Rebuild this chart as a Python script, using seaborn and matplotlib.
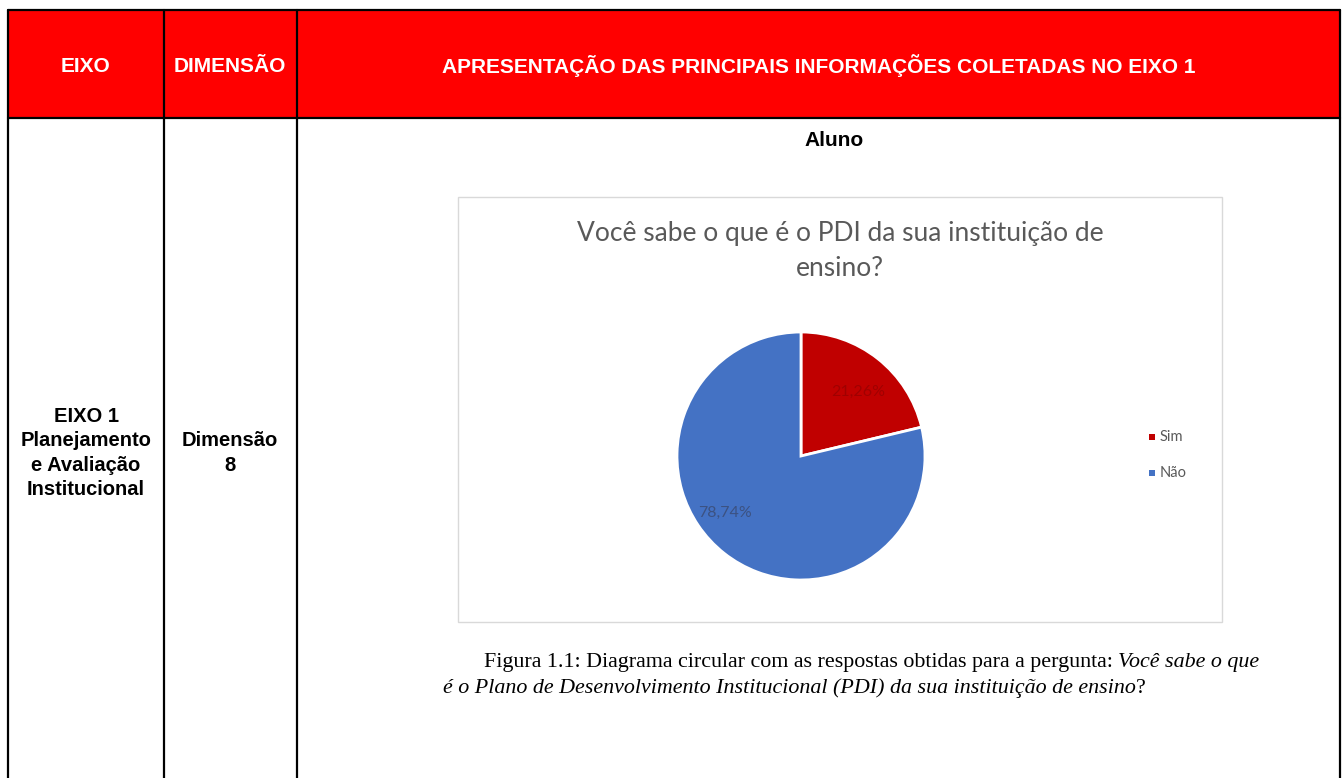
import matplotlib
matplotlib.use("Agg")
import matplotlib.pyplot as plt
import seaborn as sns

# data
labels = ["Sim", "Não"]
shares = [21.26, 78.74]
pct_text = ["21,26%", "78,74%"]
colors = ["#C00000", "#4472C4"]
pct_colors = ["#A00000", "#3C5282"]

header = ["EIXO", "DIMENSÃO", "APRESENTAÇÃO DAS PRINCIPAIS INFORMAÇÕES COLETADAS NO EIXO 1"]
eixo = "EIXO 1\nPlanejamento\ne Avaliação\nInstitucional"
dimensao = "Dimensão\n8"
chart_title = "Você sabe o que é o PDI da sua instituição de\nensino?"

sns.set_style("white")
plt.rcParams["font.family"] = ["Liberation Sans", "DejaVu Sans"]

W, H = 1344, 778
fig = plt.figure(figsize=(W / 100, H / 100), dpi=100)

# background axes in pixel coords for the table frame
bg = fig.add_axes([0, 0, 1, 1])
bg.set_xlim(0, W)
bg.set_ylim(H, 0)
bg.axis("off")

bg.add_patch(plt.Rectangle((8, 10), 1332, 108, facecolor="#FF0000", edgecolor="none"))
lw = 1.6
bg.plot([8, 1340], [10, 10], color="black", lw=lw)
bg.plot([8, 1340], [118, 118], color="black", lw=lw)
for x in [8, 164, 297, 1340]:
    bg.plot([x, x], [10, H], color="black", lw=lw)

hx = [86, 230, 819]
for x, t in zip(hx, header):
    bg.text(x, 66, t, color="white", fontweight="bold", fontsize=15, ha="center", va="center")

bg.text(86, 453, eixo, color="black", fontweight="bold", fontsize=14.5, ha="center", va="center",
        linespacing=1.37)
bg.text(230, 453, dimensao, color="black", fontweight="bold", fontsize=14.5, ha="center", va="center",
        linespacing=1.37)
bg.text(834, 140, "Aluno", color="black", fontweight="bold", fontsize=15, ha="center", va="center")

# chart frame
bg.add_patch(plt.Rectangle((458, 197), 764, 425, facecolor="white", edgecolor="#D9D9D9", lw=1))
bg.text(840, 251, chart_title, color="#595959", fontsize=19, ha="center", va="center",
        family=["Lato", "DejaVu Sans"], linespacing=1.48)

# legend
for i, (lab, c) in enumerate(zip(labels, colors)):
    y = 437 + 36 * i
    bg.add_patch(plt.Rectangle((1149, y - 3), 6, 6, facecolor=c, edgecolor="none"))
    bg.text(1160, y, lab, color="#595959", fontsize=10.5, va="center", family=["Lato", "DejaVu Sans"])

# pie
cx, cy, r = 801, 456, 124
ax = fig.add_axes([(cx - r) / W, 1 - (cy + r) / H, 2 * r / W, 2 * r / H])
wedges, _ = ax.pie(shares, colors=colors, startangle=90, counterclock=False,
                   wedgeprops=dict(edgecolor="white", linewidth=2))
ax.set_xlim(-1, 1)
ax.set_ylim(-1, 1)
ax.set_aspect("equal")
ax.text(0.46, 0.52, pct_text[0], color=pct_colors[0], fontsize=11.5, ha="center", va="center",
        family=["Lato", "DejaVu Sans"])
ax.text(-0.61, -0.46, pct_text[1], color=pct_colors[1], fontsize=11.5, ha="center", va="center",
        family=["Lato", "DejaVu Sans"])

# caption
serif = ["Liberation Serif", "DejaVu Serif"]
fs = 15.8
t1 = bg.text(484, 662, "Figura 1.1: Diagrama circular com as respostas obtidas para a pergunta: ",
             color="black", fontsize=fs, family=serif, va="center")
bg.annotate("Você sabe o que", xy=(1, 0), xycoords=t1, va="bottom", ha="left",
            color="black", fontsize=fs, family=serif, style="italic")
t2 = bg.text(443, 688, "é o Plano de Desenvolvimento Institucional (PDI) da sua instituição de ensino",
             color="black", fontsize=fs, family=serif, style="italic", va="center")
bg.annotate("?", xy=(1, 0), xycoords=t2, va="bottom", ha="left", color="black", fontsize=fs, family=serif)

fig.savefig("out.png", dpi=100)
